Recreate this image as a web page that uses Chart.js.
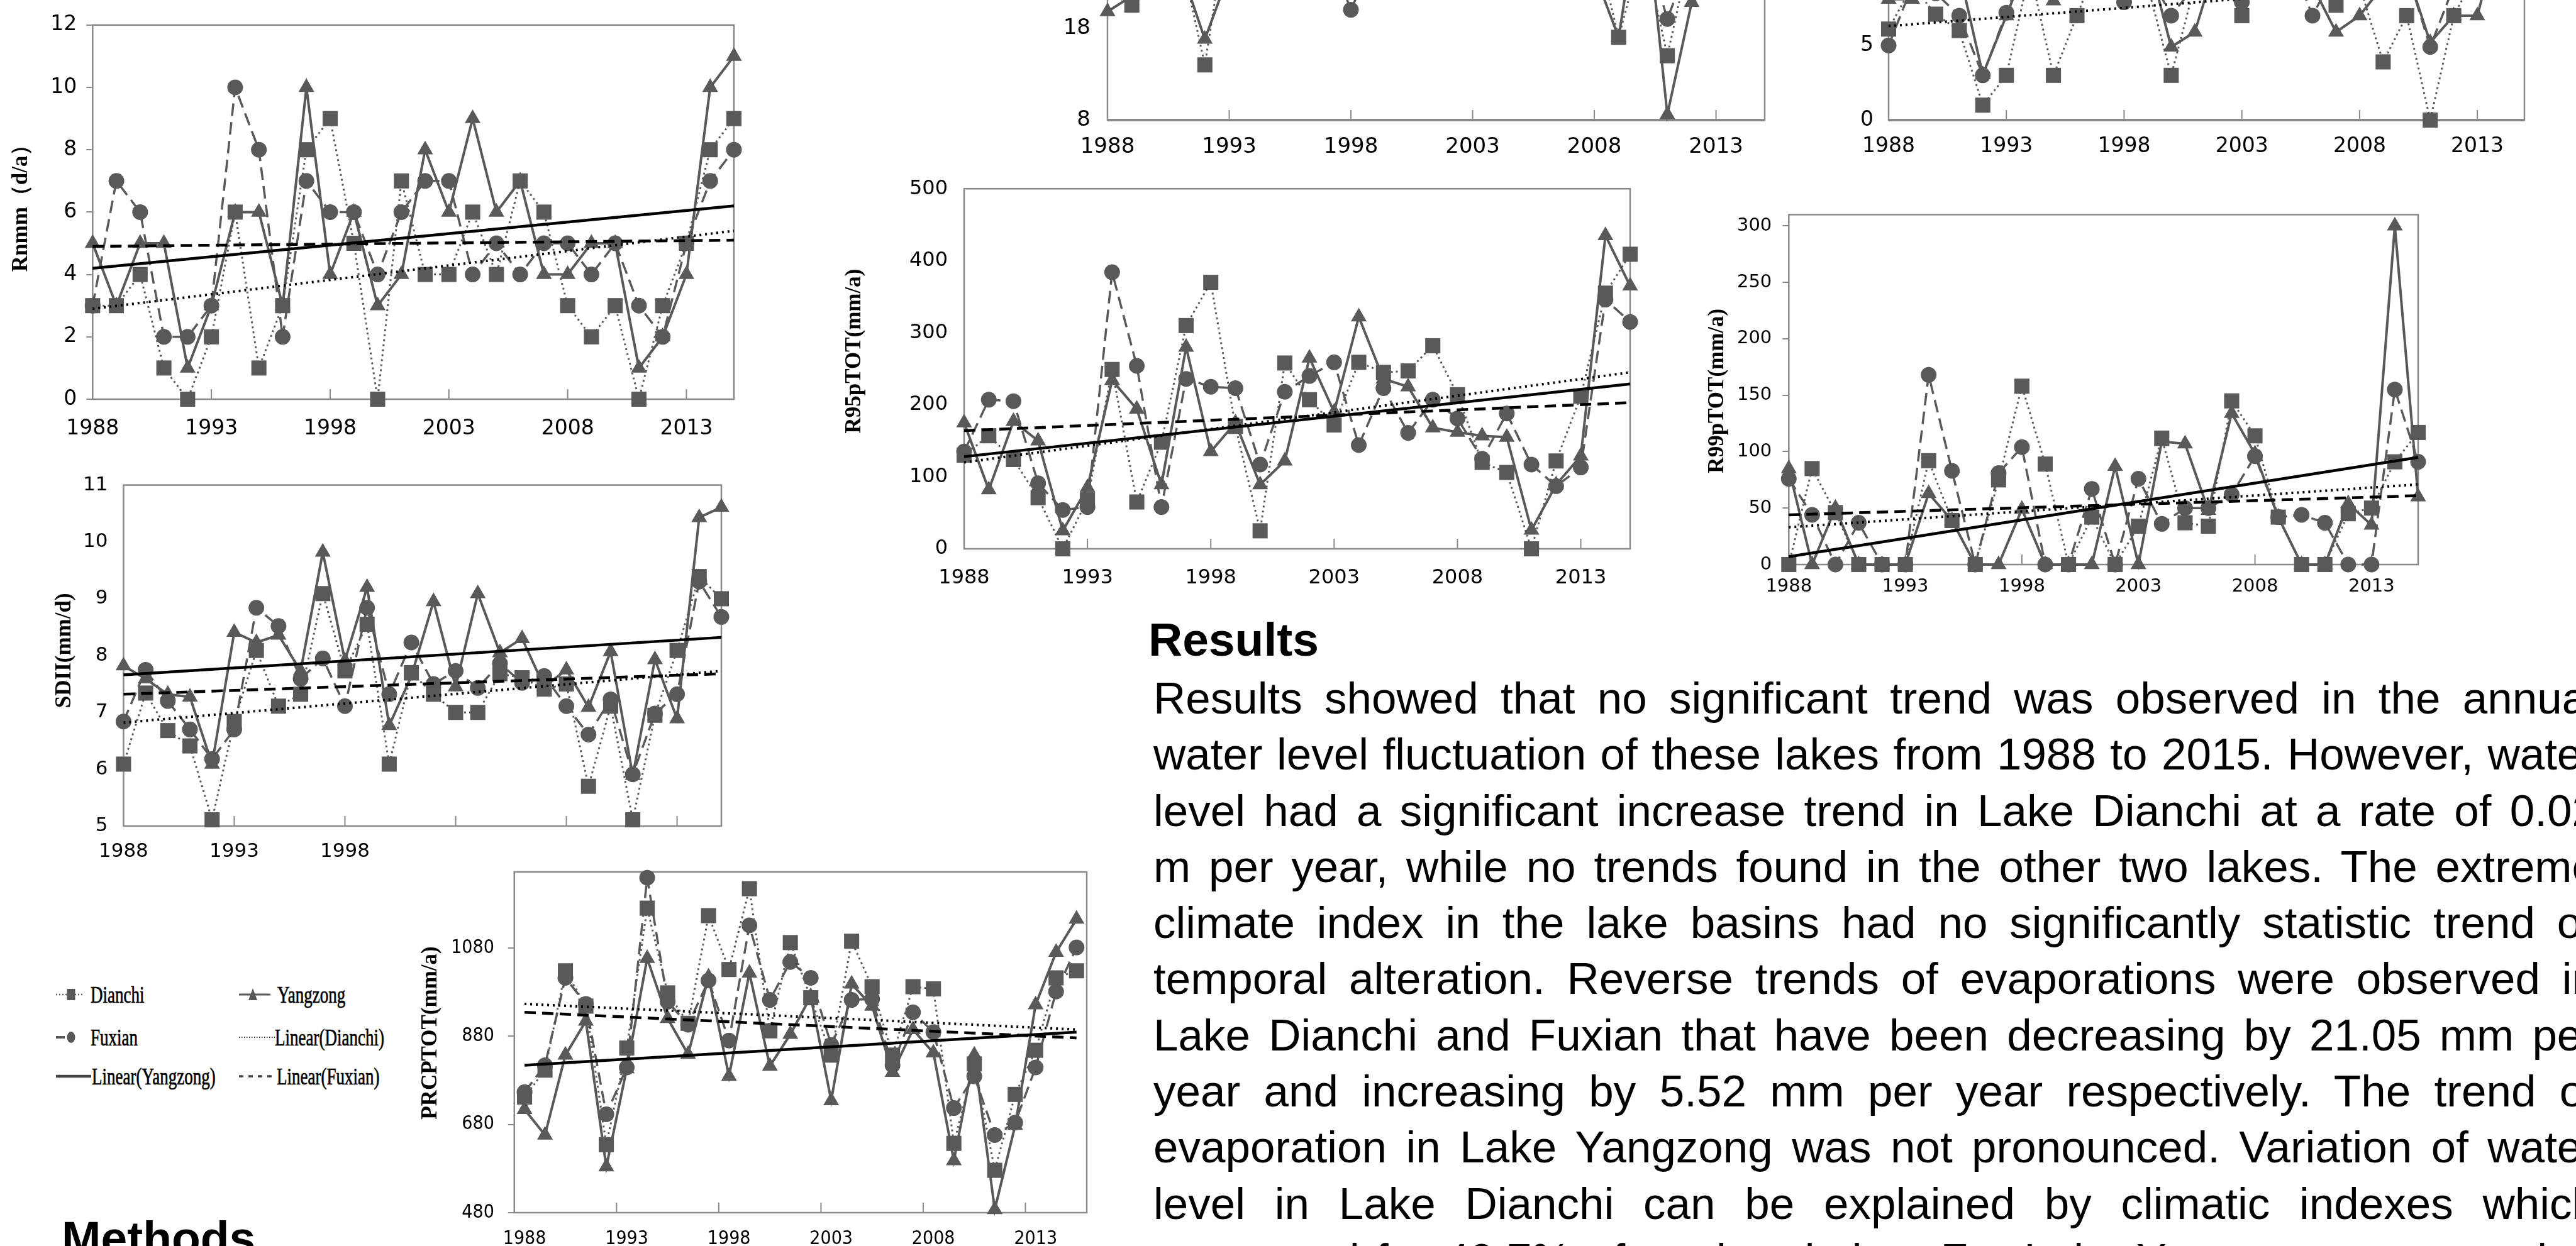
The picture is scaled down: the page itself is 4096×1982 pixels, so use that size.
<!DOCTYPE html>
<html>
<head>
<meta charset="utf-8">
<script src="https://cdn.jsdelivr.net/npm/chart.js@4.4.1/dist/chart.umd.min.js"></script>
<style>
html, body { margin: 0; padding: 0; background: #fff; }
body { width: 4096px; height: 1982px; overflow: hidden; position: relative; }
canvas { position: absolute; }
.txt { position: absolute; font-family: 'Liberation Sans', Arial, sans-serif; color: #000; white-space: nowrap; }
.head { font-weight: bold; font-size: 75px; line-height: 89.3px; }
.para { left: 1834px; top: 1066px; font-size: 71px; line-height: 89.3px; }
.para div { width: 2295px; text-align: justify; text-align-last: justify; }
.lg { position: absolute; font-family: 'Liberation Serif', 'Times New Roman', serif; font-size: 27px; line-height: 30px;
      color: #000; -webkit-text-stroke: 0.5px #000; white-space: nowrap; transform: scaleY(1.4); transform-origin: left center; }
.sw { position: absolute; }
</style>
</head>
<body>
<canvas id="cRnmm"></canvas>
<canvas id="cTop2"></canvas>
<canvas id="cTop3"></canvas>
<canvas id="cR95"></canvas>
<canvas id="cR99"></canvas>
<canvas id="cSdii"></canvas>
<canvas id="cPrcp"></canvas>

<!-- legend -->
<svg class="sw" style="left:89px;top:1567px" width="60" height="30">
  <line x1="0" y1="15" x2="44" y2="15" stroke="#595959" stroke-width="2.5" stroke-dasharray="2 3"/>
  <rect x="17.5" y="6" width="13" height="18" fill="#595959"/>
</svg>
<div class="lg" style="left:144px;top:1567px">Dianchi</div>
<svg class="sw" style="left:380px;top:1567px" width="60" height="30">
  <line x1="0" y1="15" x2="50" y2="15" stroke="#595959" stroke-width="3"/>
  <polygon points="22,5 15,24 29,24" fill="#595959"/>
</svg>
<div class="lg" style="left:441px;top:1567px">Yangzong</div>
<svg class="sw" style="left:89px;top:1635px" width="60" height="30">
  <line x1="0" y1="15" x2="14" y2="15" stroke="#595959" stroke-width="4"/>
  <ellipse cx="24" cy="15" rx="6.5" ry="9" fill="#595959"/>
</svg>
<div class="lg" style="left:144px;top:1635px">Fuxian</div>
<svg class="sw" style="left:380px;top:1635px" width="60" height="30">
  <line x1="0" y1="15" x2="57" y2="15" stroke="#333" stroke-width="2" stroke-dasharray="1.5 2.5"/>
</svg>
<div class="lg" style="left:437px;top:1635px">Linear(Dianchi)</div>
<svg class="sw" style="left:89px;top:1697px" width="60" height="30">
  <line x1="0" y1="15" x2="56" y2="15" stroke="#444" stroke-width="4.5"/>
</svg>
<div class="lg" style="left:146px;top:1697px">Linear(Yangzong)</div>
<svg class="sw" style="left:380px;top:1697px" width="62" height="30">
  <line x1="0" y1="15" x2="60" y2="15" stroke="#444" stroke-width="3.5" stroke-dasharray="7 8"/>
</svg>
<div class="lg" style="left:440px;top:1697px">Linear(Fuxian)</div>

<div class="txt head" style="left:1826px;top:973px">Results</div>
<div class="txt para">
<div>Results showed that no significant trend was observed in the annual</div>
<div>water level fluctuation of these lakes from 1988 to 2015. However, water</div>
<div>level had a significant increase trend in Lake Dianchi at a rate of 0.02</div>
<div>m per year, while no trends found in the other two lakes. The extreme</div>
<div>climate index in the lake basins had no significantly statistic trend or</div>
<div>temporal alteration. Reverse trends of evaporations were observed in</div>
<div>Lake Dianchi and Fuxian that have been decreasing by 21.05 mm per</div>
<div>year and increasing by 5.52 mm per year respectively. The trend of</div>
<div>evaporation in Lake Yangzong was not pronounced. Variation of water</div>
<div>level in Lake Dianchi can be explained by climatic indexes which</div>
<div>accounted for 49.7% of total variation. For Lake Yangzong, evaporation</div>
</div>
<div class="txt head" style="left:98px;top:1925px">Methods</div>

<script>
// years on every panel, and the years that carry a label
const years = [1988, 1989, 1990, 1991, 1992, 1993, 1994, 1995, 1996, 1997, 1998, 1999, 2000, 2001,
               2002, 2003, 2004, 2005, 2006, 2007, 2008, 2009, 2010, 2011, 2012, 2013, 2014, 2015];
const xLabelYears = [1988, 1993, 1998, 2003, 2008, 2013];
const trendYears = [1988, 2015];

// Rnmm (d/a)
const rnmmDianchi  = [3, 3, 4, 1, 0, 2, 6, 1, 3, 8, 9, 5, 0, 7, 4, 4, 6, 4, 7, 6, 3, 2, 3, 0, 3, 5, 8, 9];
const rnmmFuxian   = [3, 7, 6, 2, 2, 3, 10, 8, 2, 7, 6, 6, 4, 6, 7, 7, 4, 5, 4, 5, 5, 4, 5, 3, 2, 5, 7, 8];
const rnmmYangzong = [5, 3, 5, 5, 1, 3, 6, 6, 3, 10, 4, 6, 3, 4, 8, 6, 9, 6, 7, 4, 4, 5, 5, 1, 2, 4, 10, 11];
const rnmmTrendDianchi = [2.9, 5.4];
const rnmmTrendFuxian = [4.9, 5.1];
const rnmmTrendYangzong = [4.2, 6.2];
const rnmmTicks = [0, 2, 4, 6, 8, 10, 12];

// top middle panel (only its lower part is in the picture)
const top2Dianchi  = [22, 20.5, 24, 26, 14, 31, 27, 25, 24, 28, 29, 26, 23, 27, 25, 24, 27, 26, 28, 25, 28, 17, 27, 15, 27, 24, 29, 30];
const top2Fuxian   = [23, 25, 26, 25, 22, 27, 29, 24, 23, 27, 20, 26, 24, 28, 26, 25, 27, 26, 29, 24, 27, 25, 28, 19, 26, 25, 30, 29];
const top2Yangzong = [19.8, 21.5, 24, 24.6, 16.8, 24, 26, 25, 23, 27, 24, 26, 25, 23, 27, 25, 28, 24, 26, 25, 24, 17, 34, 8.6, 20.8, 23, 28, 30];
const top2TrendDianchi = [24, 25.5];
const top2TrendFuxian = [25, 26];
const top2TrendYangzong = [23.5, 24.5];
const top2Ticks = [8, 18, 28, 38];

// top right panel (only its lower part is in the picture)
const top3Dianchi  = [6.1, 9, 7.1, 6.0, 1.0, 3.0, 10, 3.0, 7.0, 11, 10, 9, 3.0, 9, 10, 7.0, 12, 10, 9, 7.7, 9, 3.9, 7.0, 0, 7.0, 10, 12, 11];
const top3Fuxian   = [5.0, 9, 8.5, 7.0, 3.0, 7.2, 11, 9, 10, 12, 7.9, 10, 7.0, 9, 11, 7.9, 12, 11, 7.0, 10, 9, 9, 10, 4.9, 9, 10, 13, 12];
const top3Yangzong = [8.1, 8.1, 9, 10, 3.05, 7.0, 11, 8.0, 10, 12, 10, 11, 4.9, 5.9, 11, 10, 12, 11, 9, 5.9, 7.0, 9, 10, 5.2, 7.0, 7.0, 13, 12];
const top3TrendDianchi = [6.3, 9.6];
const top3TrendFuxian = [9.2, 9.8];
const top3TrendYangzong = [8.8, 10.2];
const top3Ticks = [0, 5, 10, 15, 20, 25];

// R95pTOT (mm/a)
const r95Dianchi  = [130, 157, 124, 71, 0, 68, 249, 65, 148, 310, 370, 170, 25, 258, 207, 172, 259, 245, 247, 282, 214, 120, 106, 0, 122, 212, 355, 409];
const r95Fuxian   = [135, 207, 205, 91, 54, 58, 384, 254, 58, 236, 225, 223, 117, 218, 240, 259, 144, 223, 161, 207, 181, 125, 188, 117, 87, 113, 346, 315];
const r95Yangzong = [175, 82, 177, 150, 25, 85, 234, 194, 89, 280, 135, 175, 89, 122, 265, 190, 322, 236, 225, 168, 162, 157, 155, 26, 89, 129, 435, 365];
const r95TrendDianchi = [120, 245];
const r95TrendFuxian = [164, 203];
const r95TrendYangzong = [128, 229];
const r95Ticks = [0, 100, 200, 300, 400, 500];

// R99pTOT (mm/a)
const r99Dianchi  = [0, 85, 46, 0, 0, 0, 92, 39, 0, 75, 158, 89, 0, 42, 0, 34, 112, 37, 34, 145, 114, 42, 0, 0, 45, 50, 91, 117];
const r99Fuxian   = [76, 44, 0, 37, 0, 0, 168, 83, 0, 81, 104, 0, 0, 67, 0, 76, 36, 50, 50, 62, 96, 42, 44, 37, 0, 0, 155, 91];
const r99Yangzong = [85, 0, 50, 0, 0, 0, 63, 39, 0, 0, 49, 0, 0, 0, 87, 0, 109, 107, 48, 134, 98, 42, 0, 0, 54, 35, 300, 60];
const r99TrendDianchi = [33, 71];
const r99TrendFuxian = [44, 61];
const r99TrendYangzong = [7, 95];
const r99Ticks = [0, 50, 100, 150, 200, 250, 300];

// SDII (mm/d)
const sdiiDianchi  = [6.09, 7.34, 6.68, 6.41, 5.11, 6.84, 8.09, 7.11, 7.32, 9.09, 7.73, 8.55, 6.09, 7.70, 7.32, 7.0, 7.0, 7.68, 7.61, 7.41, 7.5, 5.70, 7.11, 5.11, 6.95, 8.09, 9.39, 9.0];
const sdiiFuxian   = [6.84, 7.75, 7.20, 6.70, 6.18, 6.70, 8.84, 8.52, 7.59, 7.95, 7.11, 8.84, 7.32, 8.23, 7.5, 7.73, 7.43, 7.86, 7.52, 7.64, 7.11, 6.61, 7.23, 5.91, 6.98, 7.32, 9.3, 8.68];
const sdiiYangzong = [7.82, 7.59, 7.32, 7.27, 6.09, 8.41, 8.23, 8.36, 7.73, 9.82, 7.91, 9.2, 6.77, 7.64, 8.95, 7.45, 9.09, 8.05, 8.3, 7.45, 7.75, 7.09, 8.07, 5.89, 7.93, 6.89, 10.43, 10.61];
const sdiiTrendDianchi = [6.82, 7.73];
const sdiiTrendFuxian = [7.32, 7.68];
const sdiiTrendYangzong = [7.66, 8.32];
const sdiiTicks = [5, 6, 7, 8, 9, 10, 11];

// PRCPTOT (mm/a)
const prcpDianchi  = [742, 803, 1028, 948, 634, 853, 1170, 978, 909, 1153, 1031, 1214, 892, 1092, 967, 837, 1095, 992, 837, 992, 987, 637, 817, 576, 748, 848, 1012, 1028];
const prcpFuxian   = [753, 814, 1012, 953, 703, 809, 1239, 958, 906, 1006, 870, 1131, 962, 1048, 1012, 860, 962, 964, 814, 934, 889, 717, 789, 656, 684, 809, 981, 1081];
const prcpYangzong = [714, 656, 837, 914, 584, 806, 1056, 920, 839, 1014, 789, 1023, 812, 884, 970, 734, 998, 948, 798, 895, 842, 598, 837, 487, 678, 951, 1070, 1145];
const prcpTrendDianchi = [953, 895];
const prcpTrendFuxian = [934, 876];
const prcpTrendYangzong = [814, 889];
const prcpTicks = [480, 680, 880, 1080];

const GREY = '#595959';
const BOX = '#898989';

// frame round the plot area plus the short inner ticks on the x axis
const plotFrame = {
    id: 'plotFrame',
    beforeDatasetsDraw(chart, args, o) {
        const { ctx, chartArea: a, scales: { x } } = chart;
        ctx.save();
        ctx.strokeStyle = BOX;
        ctx.lineWidth = 2.5;
        ctx.strokeRect(a.left, a.top, a.right - a.left, a.bottom - a.top);
        if (o.bottomWidth) {
            ctx.lineWidth = o.bottomWidth;
            ctx.beginPath();
            ctx.moveTo(a.left, a.bottom);
            ctx.lineTo(a.right, a.bottom);
            ctx.stroke();
        }
        ctx.lineWidth = 2;
        ctx.beginPath();
        o.marks.forEach(v => {
            const px = x.getPixelForValue(v);
            ctx.moveTo(px, a.bottom);
            ctx.lineTo(px, a.bottom - 16);
        });
        ctx.stroke();
        ctx.restore();
    }
};

// rotated y axis title
const yTitle = {
    id: 'yTitle',
    afterDraw(chart, args, o) {
        if (!o.text) return;
        const { ctx, chartArea: a } = chart;
        ctx.save();
        ctx.translate(o.x, (a.top + a.bottom) / 2 + o.dy);
        ctx.rotate(-Math.PI / 2);
        ctx.font = 'bold 35px "Liberation Serif", "Times New Roman", serif';
        ctx.fillStyle = '#000';
        ctx.textAlign = 'center';
        ctx.textBaseline = 'middle';
        ctx.fillText(o.text, 0, 0);
        ctx.restore();
    }
};

function makeSets(d, f, y, td, tf, ty) {
    const pts = v => v.map((val, i) => ({ x: years[i], y: val }));
    const tr = v => v.map((val, i) => ({ x: trendYears[i], y: val }));
    return [
        { label: 'Linear(Dianchi)', data: tr(td), borderColor: '#000', borderWidth: 4, borderDash: [3, 6], pointRadius: 0, order: 0 },
        { label: 'Linear(Yangzong)', data: tr(ty), borderColor: '#000', borderWidth: 4.5, pointRadius: 0, order: 0 },
        { label: 'Linear(Fuxian)', data: tr(tf), borderColor: '#000', borderWidth: 4.5, borderDash: [18, 10], pointRadius: 0, order: 0 },
        { label: 'Dianchi', data: pts(d), borderColor: GREY, borderWidth: 3, borderDash: [3, 5], pointStyle: 'rect', pointRadius: 17, order: 1 },
        { label: 'Fuxian', data: pts(f), borderColor: GREY, borderWidth: 3.5, borderDash: [20, 10], pointStyle: 'circle', pointRadius: 12.5, order: 2 },
        { label: 'Yangzong', data: pts(y), borderColor: GREY, borderWidth: 4, pointStyle: 'triangle', pointRadius: 14.5, order: 3 }
    ].map(ds => Object.assign({
        pointBackgroundColor: GREY, pointBorderColor: GREY, pointBorderWidth: 0,
        pointHoverRadius: ds.pointRadius, tension: 0, fill: false, clip: false
    }, ds));
}

function build(id, c) {
    const padTop = 30, padRight = 30, xH = 90;
    const [l, r, t, b] = c.box;
    const left = c.titleX ? c.titleX - 25 : l - 110;
    const yW = l - left;
    const cv = document.getElementById(id);
    cv.width = Math.round(yW + (r - l) + padRight);
    cv.height = Math.round(padTop + (b - t) + xH);
    cv.style.left = left + 'px';
    cv.style.top = (t - padTop) + 'px';
    cv.style.width = cv.width + 'px';
    cv.style.height = cv.height + 'px';
    const font = { family: c.font || "'DejaVu Sans', sans-serif", size: c.fs };

    new Chart(cv, {
        type: 'line',
        data: { datasets: c.sets },
        options: {
            responsive: false,
            animation: false,
            devicePixelRatio: 1,
            layout: { padding: { top: padTop, right: padRight, left: 0, bottom: 0 } },
            plugins: {
                legend: { display: false },
                tooltip: { enabled: false },
                plotFrame: { bottomWidth: c.bottomWidth || 0, marks: xLabelYears.slice(1).map(v => v - (c.markShift || 0)) },
                yTitle: { text: c.title || '', x: 25, dy: c.titleDy || 0 }
            },
            scales: {
                x: {
                    type: 'linear', min: c.xMin, max: c.xMax,
                    afterBuildTicks: s => { s.ticks = xLabelYears.map(v => ({ value: v })); },
                    afterFit: s => { s.height = xH; },
                    grid: { display: false, drawTicks: false },
                    border: { display: false },
                    ticks: {
                        autoSkip: false, maxRotation: 0, padding: c.xPad, color: '#000', font,
                        callback: v => (c.hideAfter && v > c.hideAfter) ? '' : String(v)
                    }
                },
                y: {
                    type: 'linear', min: c.yMin, max: c.yMax,
                    afterBuildTicks: s => { s.ticks = c.yTicks.map(v => ({ value: v })); },
                    afterFit: s => { s.width = yW; },
                    grid: {
                        display: !!c.yTick, drawOnChartArea: false, drawTicks: !!c.yTick,
                        tickLength: c.yTick || 0, color: BOX, lineWidth: 2
                    },
                    border: { display: false },
                    ticks: { padding: c.yPad, color: '#000', font, callback: v => String(v) }
                }
            }
        },
        plugins: [plotFrame, yTitle]
    });
}

build('cRnmm', {
    box: [147.3, 1167.3, 34.6, 635.0], titleX: 34, titleDy: -15, title: 'Rnmm（d/a）',
    xMin: 1988, xMax: 2015, yMin: 0, yMax: 12, yTicks: rnmmTicks, fs: 33, xPad: 28, yPad: 15, yTick: 10,
    sets: makeSets(rnmmDianchi, rnmmFuxian, rnmmYangzong, rnmmTrendDianchi, rnmmTrendFuxian, rnmmTrendYangzong)
});
build('cTop2', {
    box: [1761.0, 2805.6, -264.9, 190.6],
    xMin: 1988, xMax: 2015, yMin: 8, yMax: 38, yTicks: top2Ticks, fs: 34, xPad: 23, yPad: 27, bottomWidth: 4,
    sets: makeSets(top2Dianchi, top2Fuxian, top2Yangzong, top2TrendDianchi, top2TrendFuxian, top2TrendYangzong)
});
build('cTop3', {
    box: [3002.6, 4013.6, -416.5, 190.6],
    xMin: 1988, xMax: 2015, yMin: 0, yMax: 25, yTicks: top3Ticks, fs: 33, xPad: 23, yPad: 24, bottomWidth: 4,
    sets: makeSets(top3Dianchi, top3Fuxian, top3Yangzong, top3TrendDianchi, top3TrendFuxian, top3TrendYangzong)
});
build('cR95', {
    box: [1533.0, 2591.8, 285.2, 873.4], titleX: 1359, titleDy: -28, title: 'R95pTOT(mm/a)',
    xMin: 1988, xMax: 2015, yMin: 0, yMax: 500, yTicks: r95Ticks, fs: 32, xPad: 27, yPad: 26,
    sets: makeSets(r95Dianchi, r95Fuxian, r95Yangzong, r95TrendDianchi, r95TrendFuxian, r95TrendYangzong)
});
build('cR99', {
    box: [2844.3, 3845.0, 337.2, 897.9], titleX: 2731, titleDy: 2, title: 'R99pTOT(mm/a)',
    xMin: 1988, xMax: 2015, yMin: 0, yMax: 310, yTicks: r99Ticks, fs: 29, xPad: 18, yPad: 17, yTick: 10,
    sets: makeSets(r99Dianchi, r99Fuxian, r99Yangzong, r99TrendDianchi, r99TrendFuxian, r99TrendYangzong)
});
build('cSdii', {
    box: [196.4, 1147.3, 758.4, 1314.0], titleX: 103, titleDy: -8, title: 'SDII(mm/d)',
    xMin: 1988, xMax: 2015, yMin: 5, yMax: 11, yTicks: sdiiTicks, fs: 31, xPad: 22, yPad: 25, hideAfter: 1998,
    sets: makeSets(sdiiDianchi, sdiiFuxian, sdiiYangzong, sdiiTrendDianchi, sdiiTrendFuxian, sdiiTrendYangzong)
});
build('cPrcp', {
    box: [817.8, 1728.0, 1377.3, 1929.0], titleX: 685, titleDy: -15, title: 'PRCPTOT(mm/a)',
    xMin: 1987.5, xMax: 2015.5, markShift: 0.5, yMin: 480, yMax: 1252, yTicks: prcpTicks,
    font: "'Liberation Sans Narrow', 'DejaVu Sans Condensed', sans-serif", fs: 30, xPad: 24, yPad: 22, yTick: 10,
    sets: makeSets(prcpDianchi, prcpFuxian, prcpYangzong, prcpTrendDianchi, prcpTrendFuxian, prcpTrendYangzong)
});
</script>
</body>
</html>
